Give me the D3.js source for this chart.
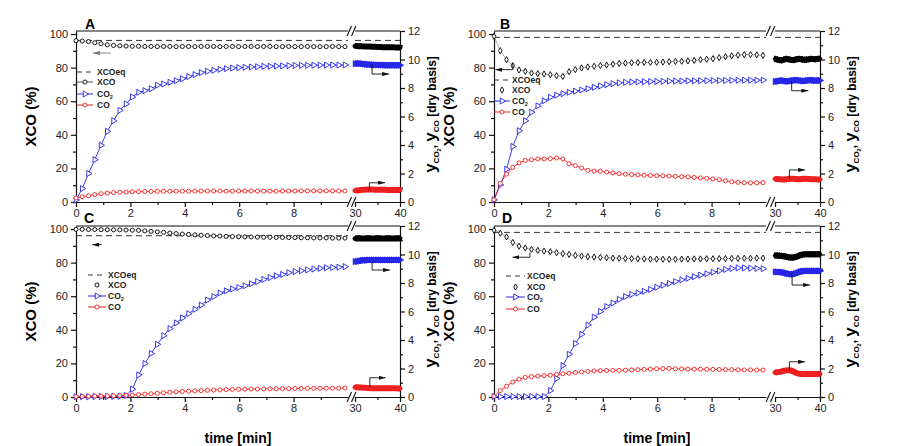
<!DOCTYPE html>
<html>
<head>
<meta charset="utf-8">
<script src="https://cdn.jsdelivr.net/npm/d3@7"></script>
<style>
  body { margin: 0; background: #fff; }
  svg { display: block; font-family: "Liberation Sans", Arial, sans-serif; }
</style>
</head>
<body>
<div class="container"></div>
<script>
/**DATA
 * sampling times of the first part (0-10 min) and of the last part (30-40 min)
 * XCO in %, yCO2 and yCO in % dry basis (right axis)
 */
const time = [0, 0.23, 0.46, 0.69, 0.92, 1.15, 1.38, 1.61, 1.84, 2.07, 2.3,
    2.53, 2.76, 2.99, 3.22, 3.45, 3.68, 3.91, 4.14, 4.37, 4.6, 4.83,
    5.06, 5.29, 5.52, 5.75, 5.98, 6.21, 6.44, 6.67, 6.9, 7.13, 7.36,
    7.59, 7.82, 8.05, 8.28, 8.51, 8.74, 8.97, 9.2, 9.43, 9.66, 9.89];
const timeLate = [30, 30.5, 31, 31.5, 32, 32.5, 33, 33.5, 34, 34.5, 35,
    35.5, 36, 36.5, 37, 37.5, 38, 38.5, 39, 39.5, 40];

const leftTicks = [0, 20, 40, 60, 80, 100];
const rightTicks = [0, 2, 4, 6, 8, 10, 12];
const earlyTicks = [0, 2, 4, 6, 8];
const lateTicks = [30, 40];

const panelLetters = ["A", "B", "C", "D"];
const xcoEq = [96.2, 98.0, 96.0, 98.0];

// panel A
const xcoA = [96.0, 95.8, 95.5, 94.8, 94.2, 93.6, 93.2, 93.0, 92.8, 92.7, 92.7,
    92.6, 92.6, 92.5, 92.6, 92.6, 92.5, 92.6, 92.6, 92.5, 92.6, 92.6,
    92.6, 92.5, 92.6, 92.6, 92.5, 92.6, 92.6, 92.5, 92.6, 92.6, 92.5,
    92.5, 92.6, 92.5, 92.5, 92.6, 92.5, 92.5, 92.5, 92.6, 92.5, 92.5];
const co2A = [0.14, 0.94, 2.0, 2.97, 3.98, 4.96, 5.7, 6.43, 6.88, 7.37, 7.7,
    7.81, 7.95, 8.19, 8.28, 8.4, 8.51, 8.65, 8.8, 8.94, 9.08, 9.17,
    9.24, 9.31, 9.36, 9.4, 9.43, 9.45, 9.47, 9.49, 9.52, 9.53, 9.54,
    9.55, 9.57, 9.58, 9.59, 9.59, 9.6, 9.6, 9.61, 9.61, 9.61, 9.62];
const coA = [0.28, 0.37, 0.44, 0.52, 0.58, 0.62, 0.66, 0.69, 0.7, 0.72, 0.73,
    0.74, 0.74, 0.75, 0.75, 0.75, 0.76, 0.76, 0.76, 0.76, 0.77, 0.77,
    0.77, 0.77, 0.76, 0.76, 0.77, 0.77, 0.77, 0.77, 0.76, 0.76, 0.76,
    0.77, 0.77, 0.77, 0.78, 0.78, 0.78, 0.78, 0.78, 0.78, 0.77, 0.77];
const xcoLateA = [92.8, 92.8, 92.7, 92.7, 92.6, 92.6, 92.5, 92.5, 92.4, 92.4, 92.3,
    92.3, 92.2, 92.2, 92.2, 92.1, 92.1, 92.1, 92.0, 92.0, 92.0];
const co2LateA = [9.7, 9.72, 9.72, 9.7, 9.68, 9.66, 9.65, 9.64, 9.63, 9.62, 9.62,
    9.61, 9.61, 9.6, 9.6, 9.6, 9.6, 9.6, 9.6, 9.6, 9.6];
const coLateA = [0.8, 0.81, 0.83, 0.85, 0.86, 0.87, 0.87, 0.87, 0.87, 0.86, 0.86,
    0.86, 0.86, 0.86, 0.85, 0.85, 0.85, 0.85, 0.85, 0.85, 0.85];

// panel B
const xcoB = [98.6, 90.1, 84.7, 81.2, 78.6, 77.8, 76.8, 76.4, 76.2, 75.8, 75.2,
    74.8, 77.6, 78.8, 79.8, 80.4, 80.8, 81.2, 81.5, 82.1, 82.5, 82.7,
    82.9, 83.0, 83.1, 83.1, 83.2, 83.3, 83.5, 83.7, 83.8, 84.0, 84.3,
    84.7, 85.0, 85.3, 85.9, 86.5, 87.0, 87.4, 87.7, 87.8, 87.6, 87.3];
const co2B = [0.15, 1.2, 2.3, 3.9, 5.0, 5.7, 6.3, 6.75, 7.1, 7.35, 7.5,
    7.6, 7.7, 7.78, 7.86, 7.95, 8.05, 8.14, 8.23, 8.3, 8.36, 8.4,
    8.42, 8.43, 8.44, 8.45, 8.46, 8.47, 8.48, 8.48, 8.49, 8.5, 8.5,
    8.51, 8.52, 8.52, 8.53, 8.53, 8.54, 8.54, 8.55, 8.55, 8.55, 8.55];
const coB = [0.16, 1.3, 1.96, 2.43, 2.74, 2.92, 2.97, 3.02, 3.02, 3.04, 3.09,
    3.02, 2.69, 2.55, 2.39, 2.22, 2.17, 2.16, 2.1, 2.04, 1.99, 1.95,
    1.92, 1.9, 1.88, 1.86, 1.85, 1.84, 1.82, 1.8, 1.78, 1.76, 1.72,
    1.69, 1.66, 1.62, 1.56, 1.49, 1.42, 1.38, 1.35, 1.34, 1.35, 1.36];
const xcoLateB = [85.2, 84.8, 84.5, 84.4, 84.8, 85.2, 85.0, 84.6, 84.5, 84.8, 85.1,
    85.2, 84.9, 84.7, 84.8, 85.0, 85.2, 85.1, 85.0, 85.2, 85.3];
const co2LateB = [8.45, 8.47, 8.5, 8.52, 8.5, 8.48, 8.47, 8.5, 8.53, 8.55, 8.55,
    8.53, 8.5, 8.5, 8.52, 8.55, 8.55, 8.53, 8.52, 8.52, 8.53];
const coLateB = [1.62, 1.62, 1.6, 1.58, 1.58, 1.6, 1.62, 1.63, 1.63, 1.62, 1.6,
    1.6, 1.62, 1.63, 1.63, 1.62, 1.6, 1.6, 1.6, 1.58, 1.58];

// panel C
const xcoC = [99.8, 99.8, 99.7, 99.7, 99.6, 99.6, 99.5, 99.5, 99.4, 99.3, 99.2,
    98.9, 98.6, 98.3, 98.0, 97.6, 97.3, 97.0, 96.8, 96.5, 96.3, 96.1,
    95.9, 95.8, 95.6, 95.5, 95.4, 95.3, 95.3, 95.2, 95.1, 95.1, 95.0,
    95.0, 94.9, 94.9, 94.8, 94.8, 94.7, 94.7, 94.7, 94.6, 94.6, 94.6];
const co2C = [0.02, 0.02, 0.02, 0.03, 0.03, 0.03, 0.04, 0.05, 0.1, 0.55, 1.55,
    2.35, 3.05, 3.7, 4.3, 4.8, 5.2, 5.55, 5.85, 6.15, 6.45, 6.8,
    7.05, 7.3, 7.45, 7.58, 7.68, 7.8, 7.95, 8.1, 8.25, 8.38, 8.5,
    8.6, 8.72, 8.8, 8.86, 8.92, 8.98, 9.03, 9.07, 9.09, 9.11, 9.15];
const coC = [0.03, 0.04, 0.05, 0.06, 0.07, 0.08, 0.09, 0.1, 0.12, 0.14, 0.17,
    0.2, 0.23, 0.26, 0.3, 0.33, 0.36, 0.39, 0.41, 0.43, 0.45, 0.47,
    0.49, 0.5, 0.52, 0.53, 0.54, 0.55, 0.56, 0.56, 0.57, 0.58, 0.58,
    0.59, 0.59, 0.6, 0.6, 0.6, 0.61, 0.61, 0.62, 0.62, 0.62, 0.63];
const xcoLateC = [94.3, 94.3, 94.4, 94.4, 94.4, 94.4, 94.4, 94.4, 94.4, 94.4, 94.4,
    94.4, 94.4, 94.4, 94.4, 94.4, 94.4, 94.4, 94.4, 94.4, 94.4];
const co2LateC = [9.5, 9.52, 9.55, 9.58, 9.6, 9.6, 9.62, 9.62, 9.62, 9.62, 9.62,
    9.62, 9.62, 9.62, 9.62, 9.62, 9.62, 9.62, 9.62, 9.62, 9.62];
const coLateC = [0.68, 0.68, 0.67, 0.66, 0.65, 0.64, 0.63, 0.62, 0.62, 0.61, 0.61,
    0.61, 0.61, 0.61, 0.61, 0.61, 0.61, 0.61, 0.61, 0.6, 0.6];

// panel D
const xcoD = [99.2, 97.5, 95.3, 92.0, 89.8, 88.7, 87.9, 87.3, 86.9, 86.5, 85.9,
    85.3, 84.9, 84.3, 83.9, 83.5, 83.3, 83.1, 82.9, 82.7, 82.6, 82.5,
    82.4, 82.3, 82.2, 82.1, 82.1, 82.0, 82.0, 82.0, 82.1, 82.1, 82.2,
    82.2, 82.3, 82.3, 82.4, 82.4, 82.5, 82.5, 82.6, 82.6, 82.7, 82.7];
const co2D = [0.03, 0.03, 0.03, 0.03, 0.03, 0.03, 0.03, 0.03, 0.03, 0.45, 1.3,
    2.2, 3.0, 3.75, 4.4, 5.05, 5.6, 6.0, 6.35, 6.6, 6.85, 7.05,
    7.2, 7.3, 7.42, 7.55, 7.7, 7.85, 7.97, 8.1, 8.22, 8.33, 8.45,
    8.55, 8.65, 8.75, 8.85, 8.95, 9.02, 9.06, 9.06, 9.04, 9.02, 9.0];
const coD = [0.05, 0.45, 0.75, 1.05, 1.25, 1.38, 1.43, 1.47, 1.5, 1.53, 1.58,
    1.63, 1.67, 1.72, 1.76, 1.8, 1.83, 1.85, 1.86, 1.87, 1.87, 1.88,
    1.9, 1.92, 1.94, 1.96, 1.98, 1.99, 2.0, 1.98, 1.97, 1.96, 1.95,
    1.95, 1.94, 1.94, 1.93, 1.92, 1.92, 1.91, 1.9, 1.9, 1.89, 1.89];
const xcoLateD = [84.2, 84.2, 84.1, 84.0, 83.8, 83.5, 83.2, 83.0, 83.0, 83.3, 83.8,
    84.3, 84.7, 84.9, 85.0, 85.0, 85.0, 85.0, 85.0, 85.0, 85.0];
const co2LateD = [8.78, 8.78, 8.77, 8.75, 8.72, 8.68, 8.64, 8.62, 8.62, 8.66, 8.72,
    8.78, 8.82, 8.84, 8.85, 8.85, 8.85, 8.85, 8.85, 8.85, 8.85];
const coLateD = [1.72, 1.74, 1.76, 1.8, 1.84, 1.87, 1.88, 1.86, 1.8, 1.72, 1.66,
    1.63, 1.62, 1.62, 1.62, 1.62, 1.62, 1.62, 1.62, 1.62, 1.62];

/**SETUP */
const blue = "#2626e8",
      red = "#ee2020";

// layout of the four panels (pixel frame, legend and annotation arrows in data units)
const panels = [
    {
        left: 76, right: 400, lateStart: 355, top: 31, bottom: 202,
        xco: xcoA, co2: co2A, co: coA, xcoLate: xcoLateA, co2Late: co2LateA, coLate: coLateA,
        xcoSymbol: "circle", xcoLegendLine: true,
        legend: {x1: 77, x2: 93, tx: 97, ys: [72, 82, 94, 105]},
        letterPos: [85, 29],
        arrows: [
            {axis: "left", part: "early", pts: [[1.28, 88.7], [0.62, 88.7]], color: "#777"},
            {axis: "right", part: "late", pts: [[33.8, 9.66], [33.8, 8.98], [37.6, 8.98]]},
            {axis: "right", part: "late", pts: [[33.2, 0.85], [33.2, 1.35], [36.7, 1.35]]}
        ]
    },
    {
        left: 494, right: 820, lateStart: 775, top: 31, bottom: 202,
        xco: xcoB, co2: co2B, co: coB, xcoLate: xcoLateB, co2Late: co2LateB, coLate: coLateB,
        xcoSymbol: "diamond", xcoLegendLine: false,
        legend: {x1: 494, x2: 510, tx: 512, ys: [80, 90, 101, 112]},
        letterPos: [500, 29],
        arrows: [
            {axis: "left", part: "early", pts: [[0.69, 82.7], [0.69, 78.8], [0.05, 78.8]]},
            {axis: "right", part: "late", pts: [[33.7, 8.45], [33.7, 7.81], [37.4, 7.81]]},
            {axis: "right", part: "late", pts: [[33.2, 1.62], [33.2, 2.25], [36.7, 2.25]]}
        ]
    },
    {
        left: 76, right: 400, lateStart: 355, top: 226, bottom: 397,
        xco: xcoC, co2: co2C, co: coC, xcoLate: xcoLateC, co2Late: co2LateC, coLate: coLateC,
        xcoSymbol: "circle", xcoLegendLine: false,
        legend: {x1: 88, x2: 106, tx: 108, ys: [275, 285, 296, 307]},
        letterPos: [84, 223],
        arrows: [
            {axis: "left", part: "early", pts: [[0.95, 90.7], [0.6, 90.7]]},
            {axis: "right", part: "late", pts: [[33.8, 9.5], [33.8, 8.91], [37.8, 8.91]]},
            {axis: "right", part: "late", pts: [[33.3, 0.7], [33.3, 1.35], [36.8, 1.35]]}
        ]
    },
    {
        left: 494, right: 820, lateStart: 775, top: 226, bottom: 397,
        xco: xcoD, co2: co2D, co: coD, xcoLate: xcoLateD, co2Late: co2LateD, coLate: coLateD,
        xcoSymbol: "diamond", xcoLegendLine: false,
        legend: {x1: 506, x2: 525, tx: 527, ys: [276, 287, 297, 309]},
        letterPos: [502, 223],
        arrows: [
            {axis: "left", part: "early", pts: [[1.32, 85.9], [1.32, 83.2], [0.68, 83.2]]},
            {axis: "right", part: "late", pts: [[33.8, 8.72], [33.8, 7.86], [37.8, 7.86]]},
            {axis: "right", part: "late", pts: [[33.2, 1.85], [33.2, 2.47], [36.7, 2.47]]}
        ]
    }
];

const container = d3.select(".container");

const svg = container
    .append("svg")
    .attr("width", 899)
    .attr("height", 446);

svg.append("rect")
    .attr("width", 899)
    .attr("height", 446)
    .attr("fill", "#fff");

// arrowhead used by the small axis pointers
svg.append("defs")
    .append("marker")
    .attr("id", "head")
    .attr("viewBox", "0 0 10 6")
    .attr("refX", 10)
    .attr("refY", 3)
    .attr("markerWidth", 7)
    .attr("markerHeight", 4.2)
    .attr("markerUnits", "userSpaceOnUse")
    .attr("orient", "auto")
    .append("path")
    .attr("d", "M0,0 L10,3 L0,6 z")
    .attr("fill", "context-stroke");

const symbols = {
    circle: d3.symbol(d3.symbolCircle, 13)(),
    diamond: d3.symbol(d3.symbolDiamond, 11)(),
    triangle: d3.symbol(d3.symbolTriangle, 16)()
};

// append open markers at given positions
function addMarkers(g, points, symbol, color, sw, fill) {
    g.selectAll(null)
        .data(points)
        .enter()
        .append("path")
        .attr("d", symbols[symbol])
        .attr("transform", d => `translate(${d[0]},${d[1]})` + (symbol === "triangle" ? " rotate(90)" : ""))
        .attr("fill", fill || "#fff")
        .attr("stroke", color)
        .attr("stroke-width", sw);
}

/**PANELS */
panels.forEach((p, i) => {
    const g = svg.append("g");

    const xEarly = d3.scaleLinear().domain([0, 10]).range([p.left, p.left + 272]);
    const xLate = d3.scaleLinear().domain([30, 40]).range([p.lateStart, p.right]);
    const yLeft = d3.scaleLinear().domain([0, 101.8]).range([p.bottom, p.top]);
    const yRight = d3.scaleLinear().domain([0, 12]).range([p.bottom, p.top]);

    // top frame, split by the axis break
    g.append("line")
        .attr("x1", p.left).attr("x2", xEarly(10))
        .attr("y1", p.top).attr("y2", p.top)
        .attr("stroke", "#111").attr("stroke-width", 1.2);
    g.append("line")
        .attr("x1", xLate(30)).attr("x2", p.right)
        .attr("y1", p.top).attr("y2", p.top)
        .attr("stroke", "#111").attr("stroke-width", 1.2);

    // left axis
    g.append("g")
        .attr("transform", `translate(${p.left},0)`)
        .call(d3.axisLeft(yLeft).tickValues(leftTicks).tickSize(5).tickSizeOuter(0).tickPadding(3));
    g.append("g")
        .attr("transform", `translate(${p.left},0)`)
        .call(d3.axisLeft(yLeft).tickValues([10, 30, 50, 70, 90]).tickSize(3).tickFormat(""))
        .call(s => s.select(".domain").remove());

    // right axis
    g.append("g")
        .attr("transform", `translate(${p.right},0)`)
        .call(d3.axisRight(yRight).tickValues(rightTicks).tickSize(5).tickSizeOuter(0).tickPadding(3));
    g.append("g")
        .attr("transform", `translate(${p.right},0)`)
        .call(d3.axisRight(yRight).tickValues([1, 3, 5, 7, 9, 11]).tickSize(3).tickFormat(""))
        .call(s => s.select(".domain").remove());

    // bottom axis, in two parts
    g.append("g")
        .attr("transform", `translate(0,${p.bottom})`)
        .call(d3.axisBottom(xEarly).tickValues(earlyTicks).tickSize(5).tickSizeOuter(0).tickPadding(2));
    g.append("g")
        .attr("transform", `translate(0,${p.bottom})`)
        .call(d3.axisBottom(xEarly).tickValues([1, 3, 5, 7, 9]).tickSize(3).tickFormat(""))
        .call(s => s.select(".domain").remove());
    g.append("g")
        .attr("transform", `translate(0,${p.bottom})`)
        .call(d3.axisBottom(xLate).tickValues(lateTicks).tickSize(5).tickSizeOuter(0).tickPadding(2));
    g.append("g")
        .attr("transform", `translate(0,${p.bottom})`)
        .call(d3.axisBottom(xLate).tickValues([35]).tickSize(3).tickFormat(""))
        .call(s => s.select(".domain").remove());

    g.selectAll(".tick text")
        .attr("font-size", 11)
        .attr("font-family", "'Liberation Sans', Arial, sans-serif")
        .attr("fill", "#222");
    g.selectAll(".domain, .tick line")
        .attr("stroke", "#111")
        .attr("stroke-width", 1.2);

    // break marks "//"
    const bx = (xEarly(10) + xLate(30)) / 2;
    [p.top, p.bottom].forEach(y => {
        [-2.2, 2.2].forEach(off => {
            g.append("line")
                .attr("x1", bx + off - 2.2).attr("y1", y + 5)
                .attr("x2", bx + off + 2.2).attr("y2", y - 5)
                .attr("stroke", "#111").attr("stroke-width", 1.1);
        });
    });

    // equilibrium conversion
    [[xEarly, 0, 10], [xLate, 30, 40]].forEach(([x, a, b]) => {
        g.append("line")
            .attr("x1", x(a)).attr("x2", x(b))
            .attr("y1", yLeft(xcoEq[i])).attr("y2", yLeft(xcoEq[i]))
            .attr("stroke", "#333")
            .attr("stroke-width", 1)
            .attr("stroke-dasharray", "6,4");
    });

    // series
    const series = [
        {early: p.xco, late: p.xcoLate, y: yLeft, color: "#000", symbol: p.xcoSymbol, line: "#777", lw: 0.6},
        {early: p.co2, late: p.co2Late, y: yRight, color: blue, symbol: "triangle", line: blue, lw: 0.9},
        {early: p.co, late: p.coLate, y: yRight, color: red, symbol: "circle", line: red, lw: 0.9}
    ];

    series.forEach(s => {
        const ptsEarly = time.map((t, k) => [xEarly(t), s.y(s.early[k])]);
        const ptsLate = timeLate.map((t, k) => [xLate(t), s.y(s.late[k])]);

        g.append("path")
            .attr("d", d3.line()(ptsEarly))
            .attr("fill", "none")
            .attr("stroke", s.line)
            .attr("stroke-width", s.lw);
        addMarkers(g, ptsEarly, s.symbol, s.color, 0.9);

        // the long run is densely sampled: a thick band of overlapping markers
        g.append("path")
            .attr("d", d3.line().curve(d3.curveMonotoneX)(ptsLate))
            .attr("fill", "none")
            .attr("stroke", s.color)
            .attr("stroke-width", 6)
            .attr("stroke-linecap", "butt");
        addMarkers(g, ptsLate, s.symbol, s.color, 1, s.color);
    });

    // axis pointers
    p.arrows.forEach(a => {
        const x = a.part === "early" ? xEarly : xLate;
        const y = a.axis === "left" ? yLeft : yRight;
        g.append("path")
            .attr("d", d3.line()(a.pts.map(d => [x(d[0]), y(d[1])])))
            .attr("fill", "none")
            .attr("stroke", a.color || "#111")
            .attr("stroke-width", 0.9)
            .attr("marker-end", "url(#head)");
    });

    // legend
    const lg = p.legend;
    const items = [
        {label: "XCOeq", type: "eq"},
        {label: "XCO", type: "xco"},
        {label: "CO", sub: "2", type: "co2"},
        {label: "CO", type: "co"}
    ];
    items.forEach((it, k) => {
        const y = lg.ys[k];
        const xm = (lg.x1 + lg.x2) / 2;
        if (it.type === "eq") {
            g.append("line")
                .attr("x1", lg.x1).attr("x2", lg.x2)
                .attr("y1", y).attr("y2", y)
                .attr("stroke", "#333").attr("stroke-width", 1)
                .attr("stroke-dasharray", "5,4");
        } else {
            const color = it.type === "xco" ? "#000" : it.type === "co2" ? blue : red;
            const symbol = it.type === "xco" ? p.xcoSymbol : it.type === "co2" ? "triangle" : "circle";
            if (it.type !== "xco" || p.xcoLegendLine) {
                g.append("line")
                    .attr("x1", lg.x1).attr("x2", lg.x2)
                    .attr("y1", y).attr("y2", y)
                    .attr("stroke", it.type === "xco" ? "#555" : color)
                    .attr("stroke-width", 1);
            }
            addMarkers(g, [[xm, y]], symbol, color, 0.9);
        }
        const txt = g.append("text")
            .attr("x", lg.tx)
            .attr("y", y + 3)
            .attr("font-size", 8.5)
            .attr("font-weight", "bold")
            .attr("fill", "#222")
            .text(it.label);
        if (it.sub) {
            txt.append("tspan")
                .attr("font-size", 5.5)
                .attr("dy", 2)
                .text(it.sub);
        }
    });

    // panel letter
    g.append("text")
        .attr("x", p.letterPos[0])
        .attr("y", p.letterPos[1])
        .attr("font-size", 14)
        .attr("font-weight", "bold")
        .text(panelLetters[i]);

    // axis titles
    const cy = (p.top + p.bottom) / 2;
    g.append("text")
        .attr("transform", `translate(${p.left - 40},${cy}) rotate(-90)`)
        .attr("text-anchor", "middle")
        .attr("font-size", 15)
        .attr("font-weight", "bold")
        .text("XCO (%)");

    const rt = g.append("text")
        .attr("transform", `translate(${p.right + 36},${cy - 2}) rotate(-90)`)
        .attr("text-anchor", "middle")
        .attr("font-weight", "bold");
    rt.append("tspan").attr("font-size", 17).text("y");
    rt.append("tspan").attr("font-size", 8).attr("dy", 3).text("CO");
    rt.append("tspan").attr("font-size", 5.5).attr("dy", 1.5).text("2");
    rt.append("tspan").attr("font-size", 12).attr("dy", -4.5).text(", ");
    rt.append("tspan").attr("font-size", 17).text("y");
    rt.append("tspan").attr("font-size", 8).attr("dy", 3).text("CO");
    rt.append("tspan").attr("font-size", 12).attr("dy", -3).text(" [dry basis]");

    if (p.top > 100) {
        g.append("text")
            .attr("x", (p.left + p.right) / 2)
            .attr("y", 443)
            .attr("text-anchor", "middle")
            .attr("font-size", 14)
            .attr("font-weight", "bold")
            .text("time [min]");
    }
});
</script>
</body>
</html>
